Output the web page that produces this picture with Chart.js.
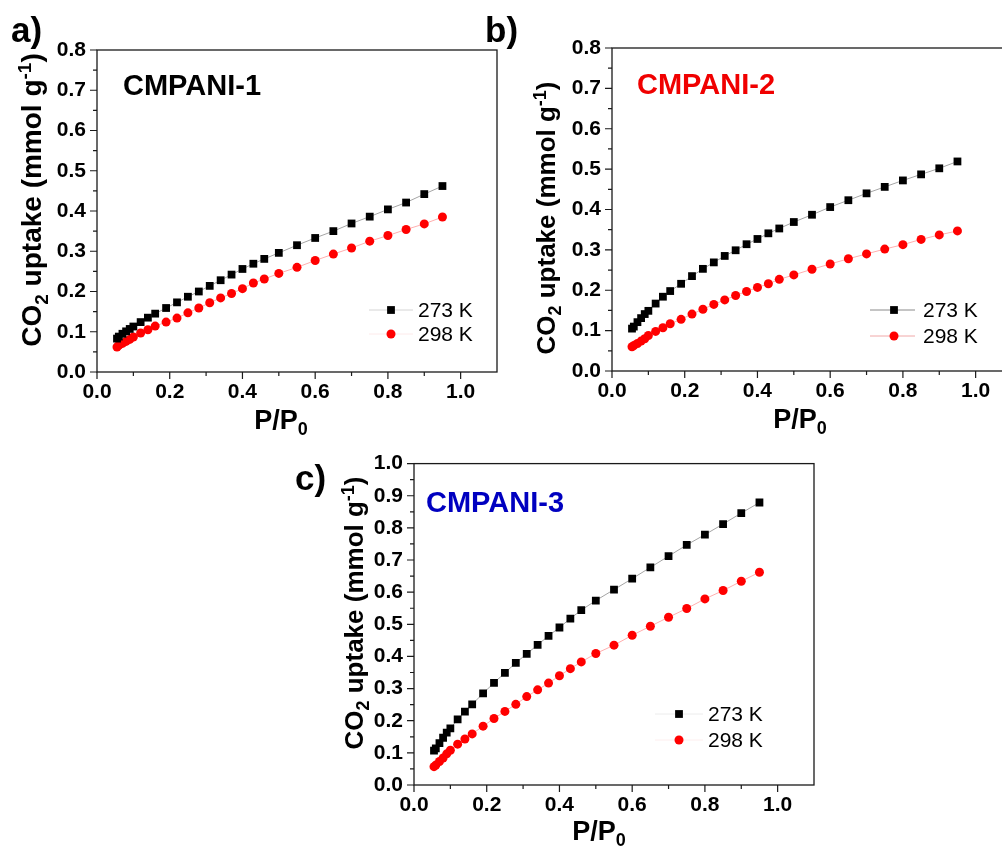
<!DOCTYPE html>
<html>
<head>
<meta charset="utf-8">
<script src="https://cdn.jsdelivr.net/npm/chart.js@4"></script>
<style>
body{margin:0;background:#fff;width:1002px;height:852px;overflow:hidden;position:relative}
canvas{position:absolute}
</style>
</head>
<body>
<canvas id="pa" width="510" height="445" style="left:0px;top:0px"></canvas>
<canvas id="pb" width="545" height="445" style="left:480px;top:0px"></canvas>
<canvas id="pc" width="560" height="412" style="left:280px;top:440px"></canvas>
<script>
// relative pressure points (same for every isotherm)
let pressure=[0.055,0.06,0.07,0.08,0.09,0.10,0.12,0.14,0.16,0.19,0.22,0.25,0.28,0.31,0.34,0.37,0.40,0.43,0.46,0.50,0.55,0.60,0.65,0.70,0.75,0.80,0.85,0.90,0.95];

let cmpani1_273=[0.083,0.088,0.095,0.101,0.107,0.113,0.124,0.135,0.145,0.159,0.173,0.187,0.200,0.214,0.228,0.242,0.256,0.269,0.281,0.296,0.315,0.333,0.350,0.369,0.386,0.404,0.421,0.442,0.462];
let cmpani1_298=[0.062,0.066,0.071,0.076,0.081,0.087,0.097,0.105,0.114,0.124,0.134,0.147,0.159,0.172,0.184,0.195,0.207,0.221,0.231,0.245,0.260,0.277,0.293,0.308,0.325,0.339,0.354,0.368,0.385];
let cmpani2_273=[0.105,0.110,0.121,0.131,0.141,0.149,0.167,0.184,0.198,0.216,0.235,0.253,0.269,0.285,0.299,0.314,0.327,0.341,0.353,0.369,0.387,0.406,0.423,0.440,0.456,0.472,0.487,0.502,0.519];
let cmpani2_298=[0.060,0.063,0.068,0.074,0.080,0.088,0.098,0.107,0.117,0.128,0.141,0.153,0.165,0.176,0.187,0.197,0.207,0.216,0.227,0.238,0.252,0.265,0.278,0.290,0.302,0.313,0.326,0.337,0.347];
let cmpani3_273=[0.107,0.114,0.130,0.147,0.163,0.176,0.204,0.228,0.251,0.285,0.318,0.349,0.380,0.408,0.436,0.464,0.490,0.518,0.544,0.574,0.608,0.642,0.677,0.712,0.747,0.779,0.812,0.846,0.879];
let cmpani3_298=[0.057,0.062,0.073,0.084,0.097,0.108,0.127,0.143,0.159,0.183,0.207,0.229,0.251,0.275,0.296,0.317,0.340,0.362,0.383,0.409,0.435,0.466,0.494,0.522,0.549,0.579,0.605,0.634,0.662];

let seriesLabels=['273 K','298 K'];
let xTicks=[0,0.2,0.4,0.6,0.8,1.0];
let xMinor=[0.1,0.3,0.5,0.7,0.9];
let yTicks08=[0,0.1,0.2,0.3,0.4,0.5,0.6,0.7,0.8];
let yMinor08=[0.05,0.15,0.25,0.35,0.45,0.55,0.65,0.75];
let yTicks10=[0,0.1,0.2,0.3,0.4,0.5,0.6,0.7,0.8,0.9,1.0];
let yMinor10=[0.05,0.15,0.25,0.35,0.45,0.55,0.65,0.75,0.85,0.95];

const FONT="'Liberation Sans', Arial, sans-serif";
const yTitle=[{t:'CO'},{t:'2',sub:true},{t:' uptake (mmol g'},{t:'-1',sup:true},{t:')'}];
const xTitle=[{t:'P/P'},{t:'0',sub:true}];

function drawRich(ctx,parts,x,y,size){
    let w=0;
    parts.forEach(p=>{
        ctx.font='bold '+((p.sub||p.sup)?Math.round(size*0.68):size)+'px '+FONT;
        w+=ctx.measureText(p.t).width;
    });
    let cx=x-w/2;
    parts.forEach(p=>{
        ctx.font='bold '+((p.sub||p.sup)?Math.round(size*0.68):size)+'px '+FONT;
        let dy=p.sub?size*0.24:(p.sup?-size*0.36:0);
        ctx.fillText(p.t,cx,y+dy);
        cx+=ctx.measureText(p.t).width;
    });
}

const decor={
    id:'decor',
    afterDraw(chart,args,o){
        const ctx=chart.ctx, a=chart.chartArea;
        const xs=chart.scales.x, ys=chart.scales.y;
        ctx.save();
        // frame
        ctx.strokeStyle='#1a1a1a';
        ctx.lineWidth=1.3;
        ctx.strokeRect(a.left,a.top,a.right-a.left,a.bottom-a.top);
        // tick marks, outward
        ctx.lineWidth=1.2;
        ctx.beginPath();
        xTicks.forEach(v=>{let p=xs.getPixelForValue(v);ctx.moveTo(p,a.bottom);ctx.lineTo(p,a.bottom+7);});
        xMinor.forEach(v=>{let p=xs.getPixelForValue(v);ctx.moveTo(p,a.bottom);ctx.lineTo(p,a.bottom+4);});
        o.yMajor.forEach(v=>{let p=ys.getPixelForValue(v);ctx.moveTo(a.left,p);ctx.lineTo(a.left-7,p);});
        o.yMinor.forEach(v=>{let p=ys.getPixelForValue(v);ctx.moveTo(a.left,p);ctx.lineTo(a.left-4,p);});
        ctx.stroke();

        ctx.fillStyle='#000';
        ctx.textAlign='left';
        ctx.textBaseline='alphabetic';
        // panel letter
        ctx.font='bold 35px '+FONT;
        ctx.fillText(o.letter.t,o.letter.x,o.letter.y);
        // sample name
        ctx.fillStyle=o.name.color;
        ctx.font='bold 29px '+FONT;
        ctx.fillText(o.name.t,o.name.x,o.name.y);
        // axis titles
        ctx.fillStyle='#000';
        drawRich(ctx,xTitle,o.xt.x,o.xt.y,o.xt.size);
        ctx.save();
        ctx.translate(o.yt.x,o.yt.y);
        ctx.rotate(-Math.PI/2);
        drawRich(ctx,yTitle,0,0,o.yt.size);
        ctx.restore();
        // legend
        const L=o.legend;
        chart.data.datasets.forEach((ds,i)=>{
            let y=L.y[i];
            ctx.strokeStyle=L.lineColors[i];
            ctx.lineWidth=1;
            ctx.beginPath();ctx.moveTo(L.x1,y);ctx.lineTo(L.x2,y);ctx.stroke();
            ctx.fillStyle=ds.pointBackgroundColor;
            if(ds.pointStyle==='rect'){
                let s=ds.pointRadius*Math.SQRT2;
                ctx.fillRect(L.mx-s/2,y-s/2,s,s);
            }else{
                ctx.beginPath();ctx.arc(L.mx,y,ds.pointRadius,0,Math.PI*2);ctx.fill();
            }
            ctx.fillStyle='#000';
            ctx.font='21px '+FONT;
            ctx.textBaseline='middle';
            ctx.fillText(ds.label,L.tx,y+1);
            ctx.textBaseline='alphabetic';
        });
        ctx.restore();
    }
};

function makePanel(id,lowT,highT,yMax,yTicks,yMinor,box,deco){
    let pts=arr=>arr.map((v,i)=>({x:pressure[i],y:v}));
    return new Chart(document.getElementById(id),{
        type:'scatter',
        data:{
            datasets:[{
                label:seriesLabels[0],
                data:pts(lowT),
                showLine:true,
                borderColor:'rgba(0,0,0,0.45)',
                borderWidth:0.8,
                pointStyle:'rect',
                pointRadius:5.5,
                pointBackgroundColor:'#000',
                pointBorderWidth:0,
            },{
                label:seriesLabels[1],
                data:pts(highT),
                showLine:true,
                borderColor:'rgba(255,0,0,0.4)',
                borderWidth:0.8,
                pointStyle:'circle',
                pointRadius:4.5,
                pointBackgroundColor:'#ff0000',
                pointBorderWidth:0,
            }]
        },
        options:{
            responsive:false,
            animation:false,
            events:[],
            layout:{padding:{top:box.top,right:box.right,left:0,bottom:0}},
            plugins:{
                legend:{display:false},
                tooltip:{enabled:false},
                decor:Object.assign({yMajor:yTicks,yMinor:yMinor},deco)
            },
            scales:{
                x:{
                    type:'linear',min:0,max:1.1,
                    afterBuildTicks:s=>{s.ticks=xTicks.map(v=>({value:v}));},
                    afterFit:s=>{s.height=box.xh;},
                    grid:{display:false,drawTicks:false},
                    border:{display:false},
                    ticks:{padding:8,color:'#000',maxRotation:0,autoSkip:false,
                        font:{family:FONT,size:21,weight:'bold'},
                        callback:v=>v.toFixed(1)}
                },
                y:{
                    type:'linear',min:0,max:yMax,
                    afterBuildTicks:s=>{s.ticks=yTicks.map(v=>({value:v}));},
                    afterFit:s=>{s.width=box.yw;},
                    grid:{display:false,drawTicks:false},
                    border:{display:false},
                    ticks:{padding:11,color:'#000',autoSkip:false,
                        font:{family:FONT,size:21,weight:'bold'},
                        callback:v=>v.toFixed(1)}
                }
            }
        },
        plugins:[decor]
    });
}

makePanel('pa',cmpani1_273,cmpani1_298,0.8,yTicks08,yMinor08,
    {top:50,right:13,xh:73,yw:97},
    {letter:{t:'a)',x:11,y:42},
     name:{t:'CMPANI-1',x:123,y:95,color:'#000'},
     xt:{x:281,y:429,size:27},
     yt:{x:41,y:200,size:28},
     legend:{x1:369,x2:413,mx:391,tx:418,y:[310,334],lineColors:['#d4d4d4','#fdeaea']}});

makePanel('pb',cmpani2_273,cmpani2_298,0.8,yTicks08,yMinor08,
    {top:48,right:13,xh:74,yw:132},
    {letter:{t:'b)',x:5,y:42},
     name:{t:'CMPANI-2',x:157,y:94,color:'#f00000'},
     xt:{x:320,y:428,size:27},
     yt:{x:75,y:218,size:26},
     legend:{x1:390,x2:435,mx:414,tx:443,y:[310,336],lineColors:['#8a8a8a','#f0a8a8']}});

makePanel('pc',cmpani3_273,cmpani3_298,1.0,yTicks10,yMinor10,
    {top:23,right:26,xh:67,yw:134},
    {letter:{t:'c)',x:15,y:50},
     name:{t:'CMPANI-3',x:146,y:72,color:'#0000c0'},
     xt:{x:319,y:400,size:27},
     yt:{x:83,y:173,size:26},
     legend:{x1:375,x2:423,mx:399,tx:428,y:[274,300],lineColors:['#ececec','#fdeeee']}});
</script>
</body>
</html>
